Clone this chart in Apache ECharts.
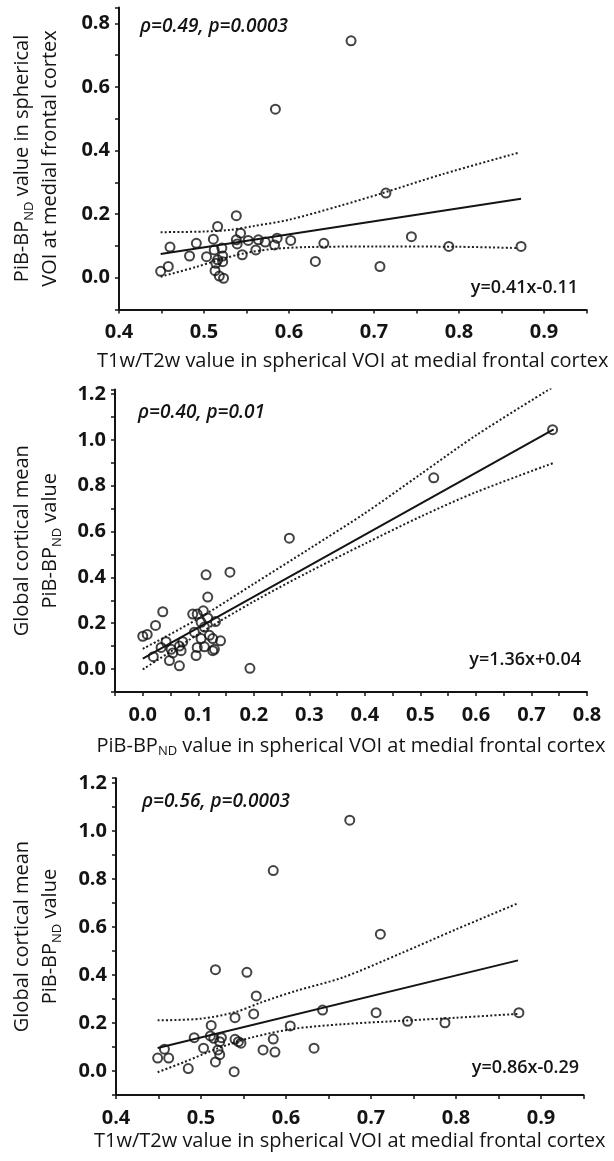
<!DOCTYPE html>
<html>
<head>
<meta charset="utf-8">
<script src="https://cdn.jsdelivr.net/npm/echarts@6/dist/echarts.min.js"></script>
<style>
    html, body { margin: 0; padding: 0; background: #fff; }
    #main { width: 614px; height: 1161px; }
</style>
</head>
<body>
<div id="main"></div>
<script>
// panel 1: T1w/T2w (medial frontal VOI) vs PiB-BPnd (medial frontal VOI)
var p1_t1t2 = [0.449, 0.458, 0.460, 0.483, 0.491, 0.503, 0.511, 0.516, 0.513, 0.518, 0.523, 0.514, 0.516, 0.522, 0.521, 0.522, 0.512, 0.538, 0.543,
    0.538, 0.539, 0.545, 0.552, 0.561, 0.564, 0.572, 0.583, 0.586, 0.602, 0.631, 0.641, 0.714, 0.707, 0.744, 0.788, 0.873, 0.584, 0.673];
var p1_pib = [0.020, 0.035, 0.096, 0.068, 0.108, 0.066, 0.121, 0.161, 0.022, 0.005, -0.002, 0.045, 0.056, 0.050, 0.093, 0.068, 0.087, 0.195, 0.140,
    0.119, 0.106, 0.072, 0.117, 0.087, 0.119, 0.112, 0.103, 0.124, 0.117, 0.051, 0.108, 0.266, 0.035, 0.129, 0.098, 0.098, 0.530, 0.745];
var p1_fit = [[0.449, 0.074], [0.873, 0.248]];
var p1_upper = [[0.449, 0.143], [0.50, 0.145], [0.53, 0.150], [0.56, 0.163], [0.60, 0.182], [0.66, 0.226], [0.71, 0.266], [0.78, 0.325], [0.87, 0.393]];
var p1_lower = [[0.449, 0.003], [0.49, 0.033], [0.52, 0.058], [0.55, 0.078], [0.58, 0.090], [0.62, 0.096], [0.70, 0.098], [0.80, 0.097], [0.87, 0.093]];

// panel 2: PiB-BPnd medial frontal VOI vs global cortical mean
var p2_pib = [0.000, 0.008, 0.023, 0.036, 0.019, 0.033, 0.042, 0.048, 0.051, 0.054, 0.066, 0.069, 0.072, 0.066, 0.090, 0.098, 0.093, 0.096, 0.098,
    0.105, 0.109, 0.111, 0.105, 0.114, 0.117, 0.111, 0.120, 0.117, 0.126, 0.129, 0.131, 0.126, 0.140, 0.157, 0.193, 0.264, 0.524, 0.738];
var p2_global = [0.143, 0.151, 0.190, 0.250, 0.054, 0.094, 0.119, 0.037, 0.086, 0.070, 0.100, 0.080, 0.119, 0.014, 0.240, 0.240, 0.161, 0.059, 0.094,
    0.204, 0.254, 0.183, 0.133, 0.411, 0.314, 0.097, 0.147, 0.223, 0.133, 0.086, 0.207, 0.080, 0.123, 0.423, 0.003, 0.571, 0.835, 1.045];
var p2_fit = [[0.0, 0.045], [0.74, 1.046]];
var p2_upper = [[0.0, 0.088], [0.1, 0.220], [0.2, 0.372], [0.3, 0.525], [0.4, 0.680], [0.5, 0.850], [0.6, 1.020], [0.74, 1.233]];
var p2_lower = [[0.0, -0.002], [0.1, 0.152], [0.2, 0.295], [0.3, 0.425], [0.4, 0.547], [0.5, 0.665], [0.6, 0.772], [0.74, 0.900]];

// panel 3: T1w/T2w medial frontal VOI vs global cortical mean
var p3_t1t2 = [0.449, 0.457, 0.462, 0.485, 0.492, 0.503, 0.512, 0.517, 0.511, 0.515, 0.517, 0.520, 0.522, 0.524, 0.522, 0.539, 0.540, 0.540,
    0.544, 0.547, 0.554, 0.565, 0.562, 0.573, 0.585, 0.587, 0.605, 0.633, 0.643, 0.706, 0.743, 0.787, 0.874, 0.585, 0.675, 0.711];
var p3_global = [0.054, 0.091, 0.054, 0.010, 0.139, 0.095, 0.190, 0.422, 0.146, 0.136, 0.038, 0.088, 0.068, 0.139, 0.122, -0.003, 0.132, 0.222,
    0.122, 0.116, 0.411, 0.313, 0.238, 0.088, 0.133, 0.079, 0.188, 0.095, 0.254, 0.243, 0.207, 0.201, 0.243, 0.835, 1.045, 0.570];
var p3_fit = [[0.449, 0.096], [0.873, 0.461]];
var p3_upper = [[0.449, 0.211], [0.50, 0.218], [0.54, 0.245], [0.571, 0.286], [0.611, 0.333], [0.667, 0.390], [0.735, 0.490], [0.80, 0.590], [0.873, 0.699]];
var p3_lower = [[0.449, -0.005], [0.48, 0.037], [0.52, 0.095], [0.56, 0.140], [0.61, 0.176], [0.667, 0.195], [0.74, 0.210], [0.80, 0.222], [0.873, 0.238]];

var stats = ['\u03c1=0.49, p=0.0003', '\u03c1=0.40, p=0.01', '\u03c1=0.56, p=0.0003'];
var equations = ['y=0.41x-0.11', 'y=1.36x+0.04', 'y=0.86x-0.29'];

var FONT = 'Open Sans';
var INK = '#141414';

function zip(xs, ys) {
    var out = [];
    for (var i = 0; i < xs.length; i++) {
        out.push([xs[i], ys[i]]);
    }
    return out;
}

// label only every other tick (ticks run at half the label step)
function everyOther(step, lo) {
    return function (v) {
        var k = v / step;
        if (Math.abs(k - Math.round(k)) > 1e-6 || v < lo - 1e-9) {
            return '';
        }
        return (Math.abs(v) < 1e-9 ? 0 : v).toFixed(1);
    };
}

function makeAxis(idx, min, max, tick, step, lo, name, nameGap, lh, subLh, isY) {
    return {
        type: 'value',
        gridIndex: idx,
        min: min,
        max: max,
        interval: tick,
        name: name,
        nameLocation: 'middle',
        nameGap: nameGap,
        nameTextStyle: {
            fontFamily: FONT,
            fontSize: 20,
            color: INK,
            lineHeight: lh,
            rich: {
                sub: { fontFamily: FONT, fontSize: 13, color: INK, lineHeight: subLh, verticalAlign: 'bottom' }
            }
        },
        axisLine: { show: true, onZero: false, lineStyle: { color: INK, width: 2 } },
        axisTick: { show: true, inside: false, length: 4, lineStyle: { color: INK, width: 1.5 } },
        splitLine: { show: false },
        axisLabel: {
            fontFamily: FONT,
            fontWeight: 'bold',
            fontSize: 20,
            color: INK,
            margin: isY ? 9 : 13,
            formatter: everyOther(step, lo)
        }
    };
}

function scatter(idx, data) {
    return {
        type: 'scatter',
        xAxisIndex: idx,
        yAxisIndex: idx,
        symbol: 'circle',
        symbolSize: 9,
        z: 5,
        itemStyle: { color: 'rgba(0,0,0,0)', borderColor: INK, borderWidth: 2 },
        data: data
    };
}

function line(idx, data, dotted) {
    return {
        type: 'line',
        xAxisIndex: idx,
        yAxisIndex: idx,
        showSymbol: false,
        smooth: dotted ? 0.3 : false,
        z: 3,
        lineStyle: dotted ? { color: '#1e1e1e', width: 2, type: [2, 2.2] } : { color: INK, width: 2 },
        data: data
    };
}

function note(text, x, y, align, italic, size) {
    return {
        type: 'text',
        x: x,
        y: y,
        style: {
            text: text,
            fill: INK,
            font: (italic ? 'italic ' : '') + '600 ' + size + 'px "' + FONT + '"',
            align: align,
            verticalAlign: 'middle'
        }
    };
}

var myChart = echarts.init(document.getElementById('main'));

var option = {
    animation: false,
    backgroundColor: '#fff',
    grid: [
        { left: 119, top: 7.5, width: 467.5, height: 301.9 },
        { left: 115, top: 389.6, width: 472, height: 302.3 },
        { left: 116, top: 778.2, width: 467.5, height: 316.8 }
    ],
    xAxis: [
        makeAxis(0, 0.4, 0.95, 0.05, 0.1, 0.4, 'T1w/T2w value in spherical VOI at medial frontal cortex', 40, 24, 12, false),
        makeAxis(1, -0.05, 0.8, 0.05, 0.1, 0, 'PiB-BP{sub|ND} value in spherical VOI at medial frontal cortex', 42, 24, 12, false),
        makeAxis(2, 0.4, 0.95, 0.05, 0.1, 0.4, 'T1w/T2w value in spherical VOI at medial frontal cortex', 34, 24, 12, false)
    ],
    yAxis: [
        makeAxis(0, -0.1, 0.85, 0.1, 0.2, 0, 'PiB-BP{sub|ND} value in spherical\nVOI at medial frontal cortex', 55, 28, 16, true),
        makeAxis(1, -0.1, 1.22, 0.1, 0.2, 0, 'Global cortical mean\nPiB-BP{sub|ND} value', 51, 28, 16, true),
        makeAxis(2, -0.1, 1.22, 0.1, 0.2, 0, 'Global cortical mean\nPiB-BP{sub|ND} value', 52, 28, 16, true)
    ],
    series: [
        line(0, p1_upper, true),
        line(0, p1_lower, true),
        line(0, p1_fit, false),
        scatter(0, zip(p1_t1t2, p1_pib)),
        line(1, p2_upper, true),
        line(1, p2_lower, true),
        line(1, p2_fit, false),
        scatter(1, zip(p2_pib, p2_global)),
        line(2, p3_upper, true),
        line(2, p3_lower, true),
        line(2, p3_fit, false),
        scatter(2, zip(p3_t1t2, p3_global))
    ],
    graphic: [
        note(stats[0], 140, 27, 'left', true, 19),
        note(stats[1], 138, 413, 'left', true, 19),
        note(stats[2], 142, 802, 'left', true, 19),
        note(equations[0], 578, 288, 'right', false, 18),
        note(equations[1], 581, 660, 'right', false, 18),
        note(equations[2], 579, 1068, 'right', false, 18)
    ]
};
myChart.setOption(option);
</script>
</body>
</html>
